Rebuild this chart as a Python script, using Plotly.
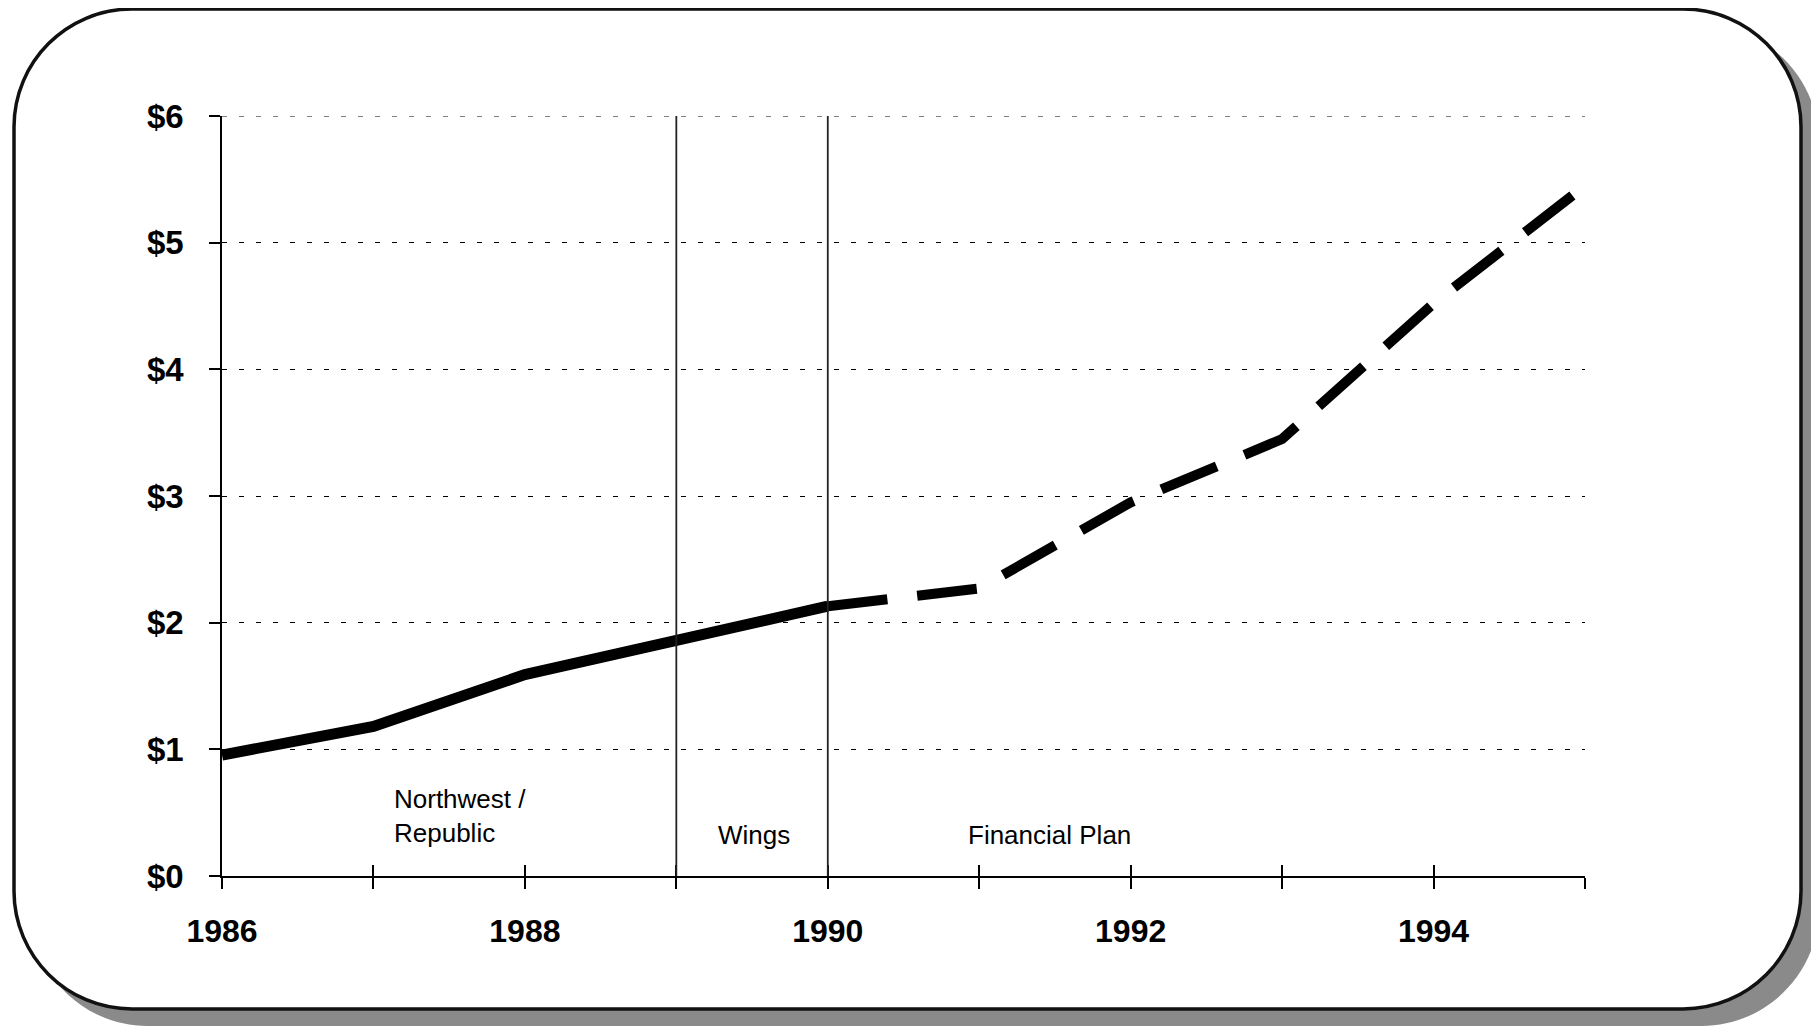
import plotly.graph_objects as go

# data (billions of dollars)
years_actual = [1986, 1987, 1988, 1989, 1990]
values_actual = [0.955, 1.18, 1.59, 1.86, 2.13]
years_plan = [1990, 1991, 1992, 1993, 1994, 1995]
values_plan = [2.13, 2.27, 2.95, 3.45, 4.52, 5.45]

tick_years = list(range(1986, 1996))
tick_text = [str(y) if y % 2 == 0 else "" for y in tick_years]
y_ticks = [0, 1, 2, 3, 4, 5, 6]
y_text = ["$" + str(v) for v in y_ticks]

era_lines = [1989, 1990]
era_labels = [
    (1987.12, 0.47, "Northwest /<br>Republic"),
    (1989.26, 0.32, "Wings"),
    (1990.91, 0.32, "Financial Plan"),
]

W, H = 1819, 1026
OFF = 8  # page body margin
L, R, T, B = 222, 1585, 116, 876
FONT = "Liberation Sans Narrow, Liberation Sans, Arial"


def px(x, y):
    return (x - L) / (R - L), (B - y) / (B - T)


def rounded(x0, y0, x1, y1, r):
    k = 0.5523 * r
    pts = [
        ("M", [(x0 + r, y0)]),
        ("L", [(x1 - r, y0)]),
        ("C", [(x1 - r + k, y0), (x1, y0 + r - k), (x1, y0 + r)]),
        ("L", [(x1, y1 - r)]),
        ("C", [(x1, y1 - r + k), (x1 - r + k, y1), (x1 - r, y1)]),
        ("L", [(x0 + r, y1)]),
        ("C", [(x0 + r - k, y1), (x0, y1 - r + k), (x0, y1 - r)]),
        ("L", [(x0, y0 + r)]),
        ("C", [(x0, y0 + r - k), (x0 + r - k, y0), (x0 + r, y0)]),
    ]
    s = ""
    for cmd, ps in pts:
        s += cmd + " " + " ".join("%.5f,%.5f" % px(a, b) for a, b in ps) + " "
    return s + "Z"


fig = go.Figure()

fig.add_trace(go.Scatter(
    x=years_actual, y=values_actual, mode="lines",
    line=dict(color="black", width=11), showlegend=False, hoverinfo="skip",
))
fig.add_trace(go.Scatter(
    x=years_plan, y=values_plan, mode="lines",
    line=dict(color="black", width=10, dash="60px,30px"), showlegend=False, hoverinfo="skip",
))
# invisible trace to carry the inside ticks axis
fig.add_trace(go.Scatter(
    x=[tick_years[0], tick_years[-1]], y=[0, 0], xaxis="x2", mode="lines",
    line=dict(width=0), showlegend=False, hoverinfo="skip",
))

shapes = [
    # shadow
    dict(type="path", xref="paper", yref="paper", layer="below",
         path=rounded(30, 25, 1819, 1026, 118), fillcolor="#8a8a8a", line=dict(width=0)),
    # frame
    dict(type="path", xref="paper", yref="paper", layer="below",
         path=rounded(14, 9, 1801, 1009, 118), fillcolor="white",
         line=dict(color="#111", width=3.5)),
    # top gridline ($6) that plotly leaves out at the range edge
    dict(type="line", xref="paper", yref="y", x0=0, x1=1, y0=y_ticks[-1], y1=y_ticks[-1],
         layer="below", line=dict(color="black", width=1, dash="5px,12px")),
]
for yr in era_lines:
    shapes.append(dict(type="line", xref="x", yref="y", x0=yr, x1=yr, y0=0, y1=6,
                       line=dict(color="#222", width=1.8)))
fig.update_layout(shapes=shapes)

for x, y, t in era_labels:
    fig.add_annotation(x=x, y=y, text=t, showarrow=False, xanchor="left", yanchor="middle",
                       align="left", font=dict(family=FONT, size=26, color="black"))

fig.update_layout(
    width=W - OFF, height=H - OFF,
    margin=dict(l=L - OFF, r=W - R, t=T - OFF, b=H - B, pad=0),
    paper_bgcolor="white", plot_bgcolor="rgba(0,0,0,0)",
    font=dict(family=FONT, color="black"),
    xaxis=dict(
        range=[1986, 1995], tickvals=tick_years, ticktext=tick_text,
        ticks="outside", ticklen=11, tickwidth=1.5, tickcolor="black",
        showline=True, linecolor="black", linewidth=1.5,
        showgrid=False, zeroline=False, ticklabelstandoff=15,
        tickfont=dict(family=FONT, size=32, weight="bold"),
    ),
    xaxis2=dict(
        range=[1986, 1995], overlaying="x", side="bottom", anchor="y",
        tickvals=tick_years, ticks="inside", ticklen=11, tickwidth=1.5,
        tickcolor="black", showticklabels=False, showgrid=False, zeroline=False,
    ),
    yaxis=dict(
        range=[0, 6], tickvals=y_ticks, ticktext=y_text,
        ticks="outside", ticklen=11, tickwidth=1.5, tickcolor="black",
        showline=True, linecolor="black", linewidth=1.5,
        showgrid=True, gridcolor="black", gridwidth=1, griddash="5px,12px",
        zeroline=False, ticklabelstandoff=19,
        tickfont=dict(family=FONT, size=33, weight="bold"),
    ),
)

fig.write_html("out.html")
